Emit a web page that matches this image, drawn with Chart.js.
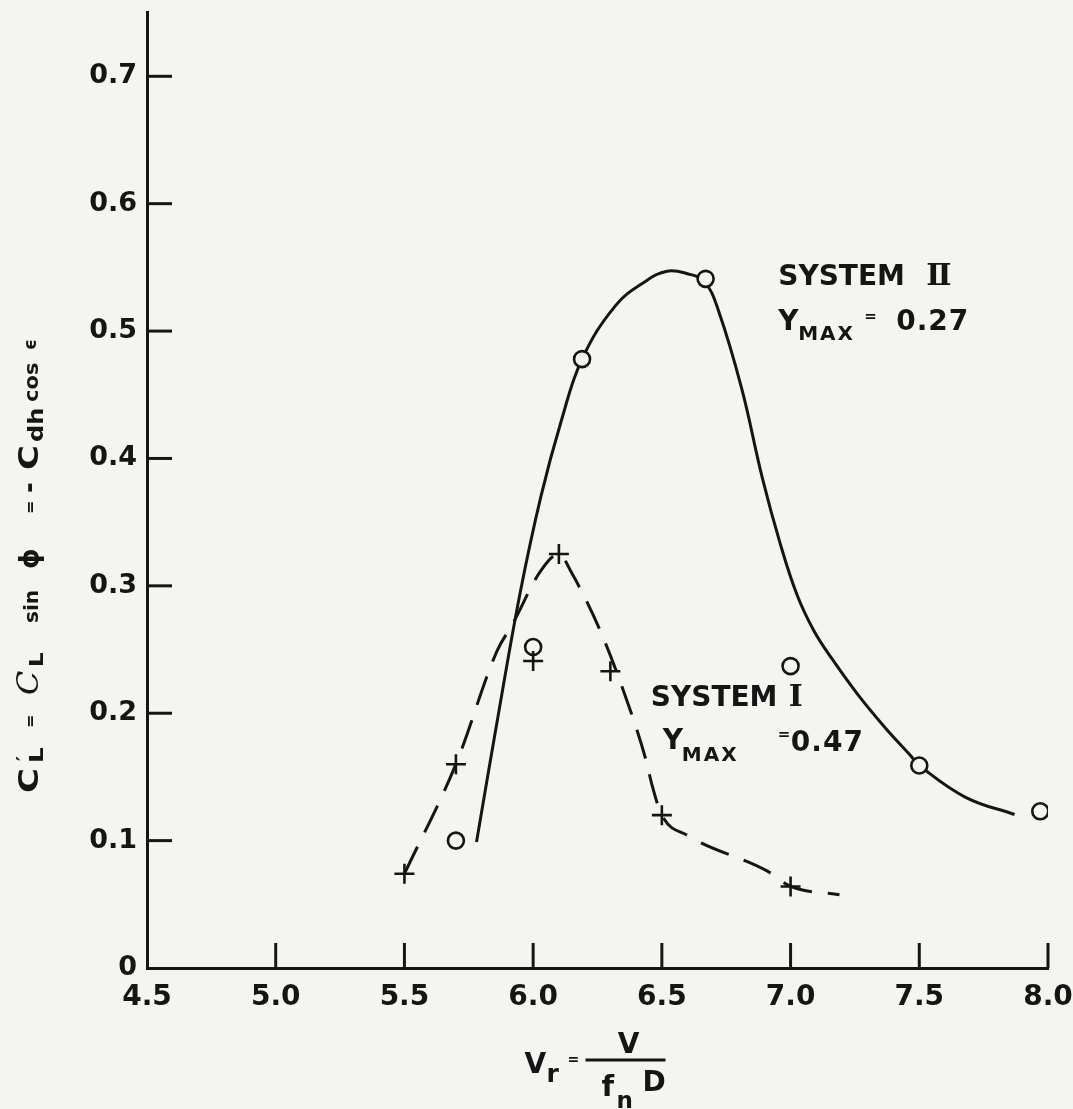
<!DOCTYPE html>
<html>
<head>
<meta charset="utf-8">
<script src="https://cdn.jsdelivr.net/npm/chart.js@4.4.1/dist/chart.umd.min.js"></script>
<style>
  html, body { margin: 0; padding: 0; background: #f4f4f1; }
  #c { display: block; }
</style>
</head>
<body>
<canvas id="c" width="1073" height="1109"></canvas>
<script>
// ---------- data ----------
const xTickValues = [4.5, 5.0, 5.5, 6.0, 6.5, 7.0, 7.5, 8.0];
const xTickLabels = ['4.5', '5.0', '5.5', '6.0', '6.5', '7.0', '7.5', '8.0'];
const yTickValues = [0, 0.1, 0.2, 0.3, 0.4, 0.5, 0.6, 0.7];
const yTickLabels = ['0', '0.1', '0.2', '0.3', '0.4', '0.5', '0.6', '0.7'];

// System I measured points (+)
const sys1Vr = [5.5, 5.7, 6.0, 6.1, 6.3, 6.5, 7.0];
const sys1CL = [0.074, 0.160, 0.241, 0.325, 0.233, 0.120, 0.064];
// System II measured points (o)
const sys2Vr = [5.7, 6.0, 6.19, 6.67, 7.0, 7.5, 7.97];
const sys2CL = [0.100, 0.252, 0.478, 0.541, 0.237, 0.159, 0.123];

// faired curve, System I (dashed)
const fit1Vr = [5.5, 5.7, 5.86, 5.92, 6.03, 6.10, 6.15, 6.26, 6.35, 6.44, 6.46, 6.50, 6.60, 6.91, 7.0, 7.19];
const fit1CL = [0.074, 0.160, 0.249, 0.270, 0.312, 0.325, 0.310, 0.265, 0.218, 0.162, 0.145, 0.120, 0.104, 0.076, 0.064, 0.0575];
// faired curve, System II (solid)
const fit2Vr = [5.78, 5.87, 5.95, 6.03, 6.11, 6.19, 6.32, 6.436, 6.52, 6.6, 6.665, 6.72, 6.81, 6.89, 6.96, 7.025, 7.09, 7.16, 7.26, 7.37, 7.465, 7.5, 7.68, 7.87];
const fit2CL = [0.099, 0.205, 0.295, 0.370, 0.430, 0.478, 0.52, 0.539, 0.547, 0.545, 0.539, 0.516, 0.455, 0.385, 0.333, 0.293, 0.265, 0.243, 0.215, 0.188, 0.167, 0.159, 0.134, 0.1205];

// ---------- styling ----------
const BG = '#f4f4f1';
const INK = '#151515';
const SANS = '"DejaVu Sans"';
const SERIF = '"DejaVu Serif"';

const pts = (xs, ys) => xs.map((v, i) => ({ x: v, y: ys[i] }));

// text annotations: anchor in data units, items offset in px
const notes = [
  { vx: 6.952, vy: 0.5363, items: [
    { t: 'SYSTEM', f: `bold 28px ${SANS}`, dx: 0, dy: 0 },
    { t: 'Ⅱ', f: `bold 30px ${SERIF}`, dx: 148, dy: 0 },
    { t: 'Y', f: `bold 28px ${SANS}`, dx: 0, dy: 45 },
    { t: 'MAX', f: `bold 20px ${SANS}`, dx: 20, dy: 55, ls: 2 },
    { t: '=', f: `bold 15px ${SANS}`, dx: 86, dy: 36 },
    { t: '0.27', f: `bold 28px ${SANS}`, dx: 118, dy: 45, ls: 1 }
  ]},
  { vx: 6.457, vy: 0.206, items: [
    { t: 'SYSTEM', f: `bold 28px ${SANS}`, dx: 0, dy: 0 },
    { t: 'Ⅰ', f: `bold 30px ${SERIF}`, dx: 138, dy: 0 },
    { t: 'Y', f: `bold 28px ${SANS}`, dx: 12, dy: 43 },
    { t: 'MAX', f: `bold 20px ${SANS}`, dx: 31, dy: 55, ls: 2 },
    { t: '=', f: `bold 15px ${SANS}`, dx: 127, dy: 33 },
    { t: '0.47', f: `bold 28px ${SANS}`, dx: 140, dy: 45, ls: 1 }
  ]}
];

const bgPlugin = {
  id: 'bg',
  beforeDraw(chart) {
    const { ctx, width, height } = chart;
    ctx.save();
    ctx.fillStyle = BG;
    ctx.fillRect(0, 0, width, height);
    ctx.restore();
  }
};

const inwardTicks = {
  id: 'inwardTicks',
  beforeDatasetsDraw(chart) {
    const { ctx, scales: { x, y } } = chart;
    ctx.save();
    ctx.strokeStyle = INK;
    ctx.lineWidth = 3;
    xTickValues.slice(1).forEach(v => {
      const px = x.getPixelForValue(v);
      ctx.beginPath(); ctx.moveTo(px, y.bottom); ctx.lineTo(px, y.bottom - 25); ctx.stroke();
    });
    yTickValues.slice(1).forEach(v => {
      const py = y.getPixelForValue(v);
      ctx.beginPath(); ctx.moveTo(x.left, py); ctx.lineTo(x.left + 25, py); ctx.stroke();
    });
    ctx.restore();
  }
};

const textPlugin = {
  id: 'texts',
  afterDraw(chart) {
    const { ctx, scales: { x, y }, chartArea } = chart;
    ctx.save();
    ctx.fillStyle = INK;
    ctx.strokeStyle = INK;
    ctx.textBaseline = 'alphabetic';
    ctx.textAlign = 'left';

    // annotations
    notes.forEach(n => {
      const ax = x.getPixelForValue(n.vx), ay = y.getPixelForValue(n.vy);
      n.items.forEach(it => {
        ctx.font = it.f;
        ctx.letterSpacing = (it.ls || 0) + 'px';
        ctx.fillText(it.t, ax + it.dx, ay + it.dy);
      });
      ctx.letterSpacing = '0px';
    });

    // y-axis title (rotated, reads bottom to top)
    const main = `bold 26px ${SANS}`, sub = `bold 19px ${SANS}`, low = `bold 20px ${SANS}`;
    const ySegs = [
      { t: 'C', f: main, at: 0, sx: 1.3 },
      { t: '′', f: sub, at: 32, dy: -8 },
      { t: 'L', f: sub, at: 30, dy: 5, sx: 1.3 },
      { t: '=', f: `bold 16px ${SANS}`, at: 65, dy: -3 },
      { t: 'C', f: `italic 29px ${SERIF}`, at: 98, sx: 1.1 },
      { t: 'L', f: sub, at: 126, dy: 5, sx: 1.2 },
      { t: 'sin', f: low, at: 170 },
      { t: 'ϕ', f: main, at: 224 },
      { t: '=', f: `bold 16px ${SANS}`, at: 279, dy: -3 },
      { t: '-', f: main, at: 300 },
      { t: 'C', f: main, at: 323, sx: 1.3 },
      { t: 'dh', f: `bold 21px ${SANS}`, at: 351, dy: 5, sx: 1.15 },
      { t: 'cos', f: low, at: 391, sx: 1.05 },
      { t: 'ϵ', f: `bold 17px ${SANS}`, at: 443, dy: -2 }
    ];
    ctx.save();
    ctx.translate(38, 793);
    ctx.rotate(-Math.PI / 2);
    ySegs.forEach(s => {
      ctx.save();
      ctx.font = s.f;
      ctx.translate(s.at, s.dy || 0);
      ctx.scale(s.sx || 1, 1);
      ctx.fillText(s.t, 0, 0);
      ctx.restore();
    });
    ctx.restore();

    // x-axis title: Vr = V / (fn D)
    const cx = (chartArea.left + chartArea.right) / 2;
    const big = `bold 28px ${SANS}`;
    ctx.font = big; ctx.fillText('V', cx - 73, 1073);
    ctx.font = `bold 25px ${SANS}`; ctx.fillText('r', cx - 51, 1082);
    ctx.font = `bold 14px ${SANS}`; ctx.fillText('=', cx - 30, 1064);
    ctx.lineWidth = 3;
    ctx.beginPath(); ctx.moveTo(cx - 12, 1060); ctx.lineTo(cx + 68, 1060); ctx.stroke();
    ctx.font = big; ctx.textAlign = 'center'; ctx.fillText('V', cx + 31, 1053);
    ctx.textAlign = 'left';
    ctx.font = `bold 29px ${SANS}`; ctx.fillText('f', cx + 4, 1096);
    ctx.font = `bold 23px ${SANS}`; ctx.fillText('n', cx + 19, 1108);
    ctx.font = big; ctx.fillText('D', cx + 45, 1091);
    ctx.restore();
  }
};

new Chart(document.getElementById('c'), {
  type: 'scatter',
  data: {
    datasets: [
      { label: 'System II curve', data: pts(fit2Vr, fit2CL), showLine: true, borderColor: INK, borderWidth: 3,
        pointRadius: 0, tension: 0.4, fill: false, order: 4 },
      { label: 'System I curve', data: pts(fit1Vr, fit1CL), showLine: true, borderColor: INK, borderWidth: 3,
        borderDash: [30, 16], pointRadius: 0, cubicInterpolationMode: 'monotone', fill: false, order: 3 },
      { label: 'System II', data: pts(sys2Vr, sys2CL), pointStyle: 'circle', pointRadius: 8,
        pointBackgroundColor: BG, pointBorderColor: INK, pointBorderWidth: 2.6, showLine: false, order: 2 },
      { label: 'System I', data: pts(sys1Vr, sys1CL), pointStyle: 'cross', pointRadius: 10,
        pointBorderColor: INK, pointBorderWidth: 2.6, showLine: false, order: 1 }
    ]
  },
  options: {
    responsive: false,
    animation: false,
    devicePixelRatio: 1,
    layout: { padding: { top: 10, right: 25, left: 0, bottom: 0 } },
    plugins: { legend: { display: false }, tooltip: { enabled: false } },
    scales: {
      x: {
        type: 'linear', min: 4.5, max: 8.0,
        afterBuildTicks: s => { s.ticks = xTickValues.map(v => ({ value: v })); },
        afterFit: s => { s.height = 141; s.paddingLeft = 0; s.paddingRight = 0; },
        grid: { display: false, drawTicks: false, tickLength: 0 },
        border: { display: true, color: INK, width: 3 },
        ticks: { autoSkip: false, maxRotation: 0, padding: 13, color: INK,
          font: { family: 'DejaVu Sans', size: 28, weight: 'bold' },
          callback: (v, i) => xTickLabels[i] }
      },
      y: {
        type: 'linear', min: 0, max: 0.75,
        afterBuildTicks: s => { s.ticks = yTickValues.map(v => ({ value: v })); },
        afterFit: s => { s.width = 147; s.paddingTop = 0; s.paddingBottom = 0; },
        grid: { display: false, drawTicks: false, tickLength: 0 },
        border: { display: true, color: INK, width: 3 },
        ticks: { padding: 10, color: INK,
          font: { family: 'DejaVu Sans', size: 27, weight: 'bold' },
          callback: (v, i) => yTickLabels[i] }
      }
    }
  },
  plugins: [bgPlugin, inwardTicks, textPlugin]
});
</script>
</body>
</html>
